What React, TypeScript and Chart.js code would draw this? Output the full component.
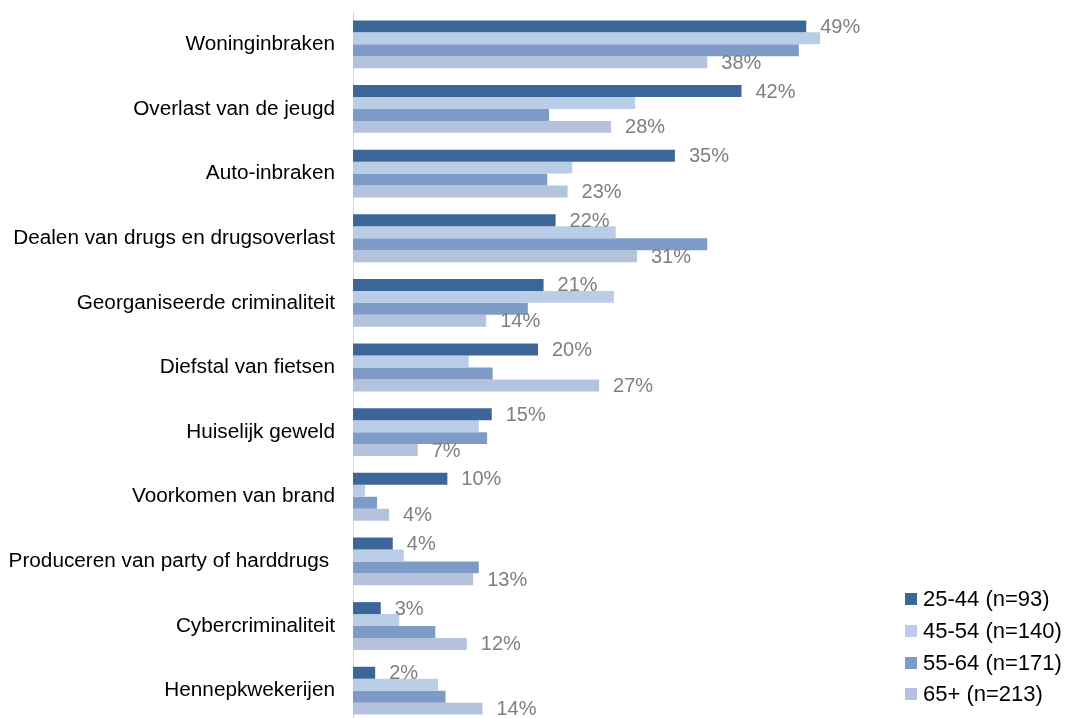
import React, { useEffect, useRef } from "react";
import { Chart, registerables } from "chart.js";

Chart.register(...registerables);

const categories = [
  "Woninginbraken",
  "Overlast van de jeugd",
  "Auto-inbraken",
  "Dealen van drugs en drugsoverlast",
  "Georganiseerde criminaliteit",
  "Diefstal van fietsen",
  "Huiselijk geweld",
  "Voorkomen van brand",
  "Produceren van party of harddrugs ",
  "Cybercriminaliteit",
  "Hennepkwekerijen",
];

const seriesNames = ["25-44 (n=93)", "45-54 (n=140)", "55-64 (n=171)", "65+ (n=213)"];
const s2544 = [49, 42, 34.8, 21.9, 20.6, 20, 15, 10.2, 4.3, 3, 2.4];
const s4554 = [50.5, 30.5, 23.7, 28.4, 28.2, 12.5, 13.6, 1.3, 5.5, 5, 9.2];
const s5564 = [48.2, 21.2, 21, 38.3, 18.9, 15.1, 14.5, 2.6, 13.6, 8.9, 10];
const s65 = [38.3, 27.9, 23.2, 30.7, 14.4, 26.6, 7, 3.9, 13, 12.3, 14];
const labelledSeries = [0, 3];

const colors = ["#3D6698", "#B9CEE6", "#7E9BC8", "#B3C3DE"];
const FONT = "'Liberation Sans', Arial, sans-serif";

const labelPlugin = {
  id: "barLabels",
  afterDatasetsDraw(chart: any) {
    const ctx = chart.ctx;
    ctx.save();
    ctx.font = `20px ${FONT}`;
    ctx.fillStyle = "#7F7F7F";
    ctx.textAlign = "left";
    ctx.textBaseline = "middle";
    labelledSeries.forEach((di) => {
      const meta = chart.getDatasetMeta(di);
      const data = chart.data.datasets[di].data as number[];
      meta.data.forEach((bar: any, i: number) => {
        ctx.fillText(`${Math.round(data[i])}%`, bar.x + 14, bar.y + 1);
      });
    });
    ctx.restore();
  },
};

export default function App() {
  const ref = useRef<HTMLCanvasElement | null>(null);
  useEffect(() => {
    if (!ref.current) return;
    Chart.defaults.font.family = FONT;
    const values = [s2544, s4554, s5564, s65];
    const chart = new Chart(ref.current, {
      type: "bar",
      data: {
        labels: categories,
        datasets: values.map((v, i) => ({
          label: seriesNames[i],
          data: v,
          backgroundColor: colors[i],
          borderWidth: 0,
          categoryPercentage: 0.74,
          barPercentage: 1,
        })),
      },
      options: {
        indexAxis: "y",
        animation: false,
        responsive: false,
        events: [],
        layout: { padding: { top: 12, bottom: 17, left: 0, right: 162 } },
        plugins: {
          legend: { display: false },
          tooltip: { enabled: false },
        },
        scales: {
          x: { display: false, min: 0, max: 60 },
          y: {
            grid: { display: false, drawTicks: false },
            border: { display: true, color: "#D9D9D9", width: 1 },
            ticks: { color: "#000000", font: { size: 20.75, family: FONT }, padding: 18 },
            afterFit: (scale: any) => {
              scale.width = 353;
              scale.paddingTop = 0;
              scale.paddingBottom = 0;
            },
          },
        },
      },
      plugins: [labelPlugin],
    });
    return () => chart.destroy();
  }, []);

  const legendTops = [599, 631, 663, 694];
  return (
    <div
      style={{
        position: "fixed",
        left: 0,
        top: 0,
        width: 1070,
        height: 718,
        overflow: "hidden",
        background: "#fff",
        fontFamily: FONT,
      }}
    >
      <canvas ref={ref} width={1070} height={740} style={{ display: "block" }} />
      {seriesNames.map((name, i) => (
        <div
          key={name}
          style={{
            position: "absolute",
            left: 905,
            top: legendTops[i] - 13,
            height: 26,
            display: "flex",
            alignItems: "center",
            fontSize: 22,
            color: "#000",
            whiteSpace: "nowrap",
          }}
        >
          <span
            style={{
              display: "inline-block",
              width: 12,
              height: 12,
              background: colors[i],
              marginRight: 6,
            }}
          />
          {name}
        </div>
      ))}
    </div>
  );
}
